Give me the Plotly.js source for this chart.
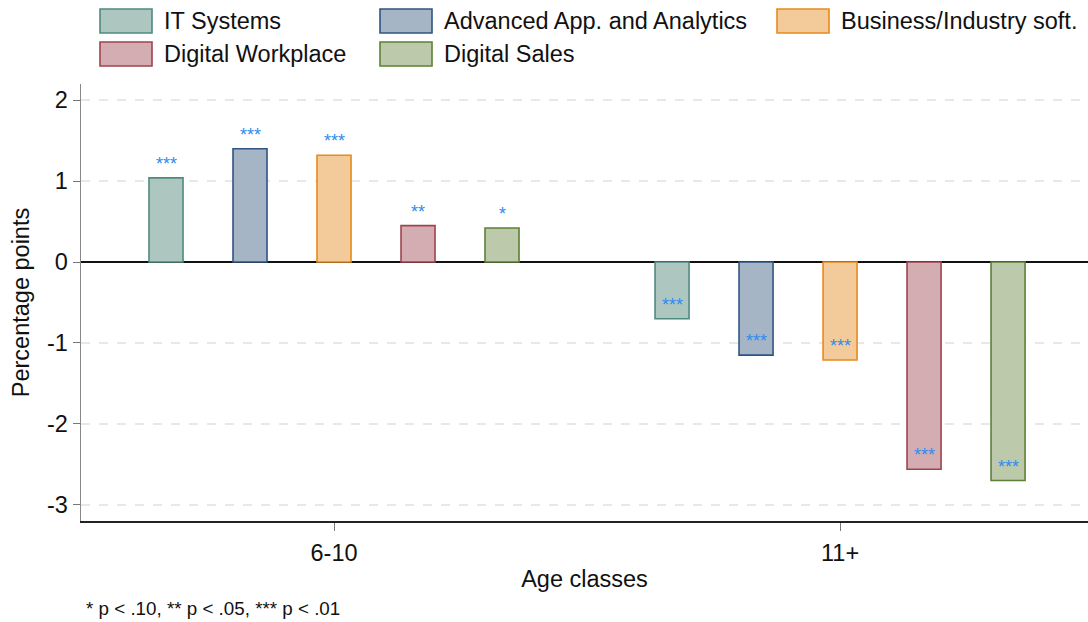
<!DOCTYPE html>
<html>
<head>
<meta charset="utf-8">
<script src="https://cdn.plot.ly/plotly-3.0.1.min.js"></script>
<style>html,body{margin:0;padding:0;background:#fff;}#chart{width:1088px;height:622px;}</style>
</head>
<body>
<div id="chart"></div>
<script>
// ---- data ----
var ageClasses = ["6-10", "11+"];
var seriesNames = ["IT Systems", "Advanced App. and Analytics", "Business/Industry soft.", "Digital Workplace", "Digital Sales"];
var itSystems   = [1.04, -0.70];
var advanced    = [1.40, -1.15];
var business    = [1.32, -1.21];
var workplace   = [0.45, -2.56];
var sales       = [0.42, -2.70];
var itStars         = ["***", "***"];
var advancedStars   = ["***", "***"];
var businessStars   = ["***", "***"];
var workplaceStars  = ["**", "***"];
var salesStars      = ["*", "***"];
var footnote = "* p < .10, ** p < .05, *** p < .01";
var yTickVals = [-3, -2, -1, 0, 1, 2];
var yTickText = ["-3", "-2", "-1", "0", "1", "2"];

// ---- styles ----
var fills = ["#adc6c0", "#a6b5c5", "#f3cb9a", "#d3adb1", "#bccaab"];
var lines = ["#4f8a80", "#2f5582", "#e88a1c", "#a0434e", "#5e8036"];
var starColor = "#2f8cf0";
var FONT = "Liberation Sans, Arial, sans-serif";

var values = [itSystems, advanced, business, workplace, sales];
var stars = [itStars, advancedStars, businessStars, workplaceStars, salesStars];

var bargap = 0.17, bargroupgap = 0.595;
var slot = (1 - bargap) / seriesNames.length;

var traces = seriesNames.map(function (name, i) {
  return {
    type: "bar",
    name: name,
    x: ageClasses,
    y: values[i],
    marker: { color: fills[i], line: { color: lines[i], width: 1.6 } },
    showlegend: false,
    hoverinfo: "x+y+name"
  };
});

var annotations = [];
seriesNames.forEach(function (name, i) {
  values[i].forEach(function (v, j) {
    annotations.push({
      xref: "x", yref: "y",
      x: j + (i - (seriesNames.length - 1) / 2) * slot,
      y: v,
      text: stars[i][j],
      showarrow: false,
      yanchor: "middle",
      yshift: 14,
      font: { family: FONT, size: 18, color: starColor }
    });
  });
});

// manual legend (wide swatches like the reference)
var shapes = [];
var legendCols = [100, 380, 777];   // px positions of swatches
var legendRows = [9, 42];
var W = 1088, H = 622;
seriesNames.forEach(function (name, i) {
  var col = i % 3, row = Math.floor(i / 3);
  var x0 = legendCols[col], y0 = legendRows[row];
  shapes.push({
    type: "rect", xref: "paper", yref: "paper", layer: "above",
    x0: (x0 - 81) / (W - 81), x1: (x0 + 52 - 81) / (W - 81),
    y0: 1 - (y0 - 84) / (H - 84 - 101), y1: 1 - (y0 + 24 - 84) / (H - 84 - 101),
    fillcolor: fills[i], line: { color: lines[i], width: 1.6 }
  });
  annotations.push({
    xref: "paper", yref: "paper",
    x: (x0 + 62 - 81) / (W - 81), y: 1 - (y0 + 12 - 84) / (H - 84 - 101),
    xanchor: "left", yanchor: "middle", showarrow: false,
    text: name, font: { family: FONT, size: 23.5, color: "#111" }
  });
});

annotations.push({
  xref: "paper", yref: "paper",
  x: (84 - 81) / (W - 81), y: 1 - (608 - 84) / (H - 84 - 101),
  xanchor: "left", yanchor: "middle", showarrow: false,
  text: footnote, font: { family: FONT, size: 18.8, color: "#111" }
});

var layout = {
  width: W, height: H,
  margin: { l: 81, r: 0, t: 84, b: 101 },
  paper_bgcolor: "#fff", plot_bgcolor: "#fff",
  barmode: "group", bargap: bargap, bargroupgap: bargroupgap,
  font: { family: FONT, color: "#111" },
  xaxis: {
    type: "category",
    range: [-0.5, 1.49],
    showline: true, linecolor: "#222", linewidth: 1.5,
    ticks: "outside", ticklen: 8, tickcolor: "#777", tickwidth: 1,
    tickfont: { family: FONT, size: 23.5, color: "#111" },
    ticklabelstandoff: 2,
    showgrid: false, zeroline: false,
    title: { text: "Age classes", font: { family: FONT, size: 23.5, color: "#111" }, standoff: 6 }
  },
  yaxis: {
    range: [-3.2, 2.2],
    tickvals: yTickVals, ticktext: yTickText,
    showline: true, linecolor: "#888", linewidth: 1.5,
    ticks: "outside", ticklen: 7, tickcolor: "#777", tickwidth: 1,
    tickfont: { family: FONT, size: 23.5, color: "#111" },
    showgrid: true, gridcolor: "#e8e8e8", gridwidth: 1.5, griddash: "dash",
    zeroline: true, zerolinecolor: "#111", zerolinewidth: 1.5,
    title: { text: "Percentage points", font: { family: FONT, size: 23.5, color: "#111" }, standoff: 10 }
  },
  shapes: shapes,
  annotations: annotations
};

Plotly.newPlot("chart", traces, layout, { displayModeBar: false, staticPlot: true });
</script>
</body>
</html>
